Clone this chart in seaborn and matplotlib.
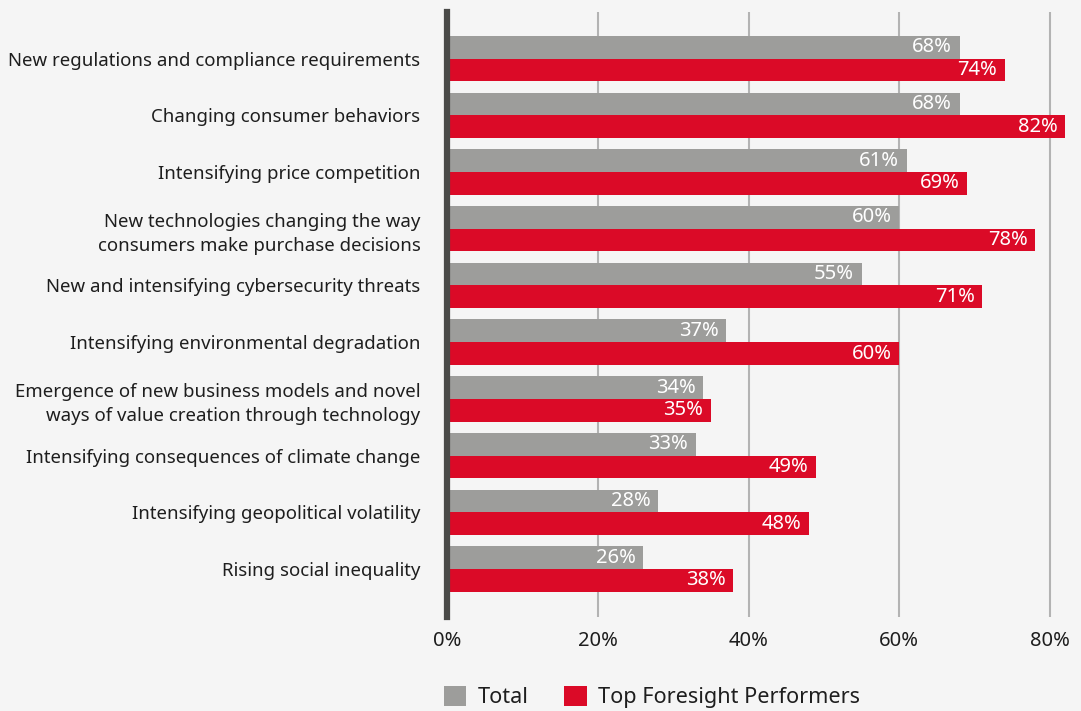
import matplotlib
matplotlib.use("Agg")
import matplotlib.pyplot as plt
import seaborn as sns
import pandas as pd
from matplotlib.ticker import FuncFormatter

categories = [
    "New regulations and compliance requirements",
    "Changing consumer behaviors",
    "Intensifying price competition",
    "New technologies changing the way\nconsumers make purchase decisions",
    "New and intensifying cybersecurity threats",
    "Intensifying environmental degradation",
    "Emergence of new business models and novel\nways of value creation through technology",
    "Intensifying consequences of climate change",
    "Intensifying geopolitical volatility",
    "Rising social inequality",
]
total = [68, 68, 61, 60, 55, 37, 34, 33, 28, 26]
top_performers = [74, 82, 69, 78, 71, 60, 35, 49, 48, 38]
series_names = ["Total", "Top Foresight Performers"]
x_ticks = [0, 20, 40, 60, 80]

df = pd.DataFrame({
    "category": categories * 2,
    "value": total + top_performers,
    "series": [series_names[0]] * len(categories) + [series_names[1]] * len(categories),
})

BG = "#f5f5f5"
GRAY = "#9d9d9b"
RED = "#db0a27"
TXT = "#1e1e1e"

sns.set_theme(style="white")
plt.rcParams["font.family"] = ["Noto Sans", "DejaVu Sans"]

fig = plt.figure(figsize=(10.81, 7.11), dpi=100, facecolor=BG)
ax = fig.add_axes([447 / 1081, 1 - 617 / 711, (1081 - 447) / 1081, (617 - 12) / 711])
ax.set_facecolor(BG)

sns.barplot(data=df, y="category", x="value", hue="series", orient="h",
            palette=[GRAY, RED], width=0.8, gap=0, dodge=True,
            saturation=1, ax=ax, zorder=3, linewidth=0, edgecolor="none")

for cont in ax.containers:
    for rect, v in zip(cont.patches, cont.datavalues):
        ax.text(rect.get_width() - 1.0, rect.get_y() + rect.get_height() / 2,
                f"{v:.0f}%", color="white", fontsize=14.5, ha="right",
                va="center", zorder=5)

ax.set_xlim(0, 634 / 7.5375)
ax.set_ylim(9.845, -0.82)
ax.set_xticks(x_ticks)
ax.xaxis.set_major_formatter(FuncFormatter(lambda v, p: f"{v:.0f}%"))
ax.grid(axis="x", color="#b3b3b3", linewidth=1.5, zorder=0)
ax.grid(axis="y", visible=False)
ax.set_axisbelow(True)
for s in ["top", "right", "bottom"]:
    ax.spines[s].set_visible(False)
ax.spines["left"].set_color("#4a4a48")
ax.spines["left"].set_linewidth(4.5)
ax.spines["left"].set_zorder(6)
ax.set_xlabel("")
ax.set_ylabel("")
ax.tick_params(axis="y", length=0, pad=19, labelsize=13.4, labelcolor=TXT)
ax.tick_params(axis="x", length=0, pad=10, labelsize=14.5, labelcolor=TXT)
for lbl in ax.get_yticklabels():
    lbl.set_multialignment("right")
    lbl.set_linespacing(1.45)

handles, labels = ax.get_legend_handles_labels()
ax.get_legend().remove()
fig.legend(handles, labels, loc="center left", bbox_to_anchor=(424 / 1081, 1 - 697 / 711),
           ncol=2, frameon=False, fontsize=15.6, handlelength=1.05, handleheight=1.05,
           handletextpad=0.55, columnspacing=1.6, labelcolor=TXT)

fig.savefig("out.png", dpi=100, facecolor=BG)
